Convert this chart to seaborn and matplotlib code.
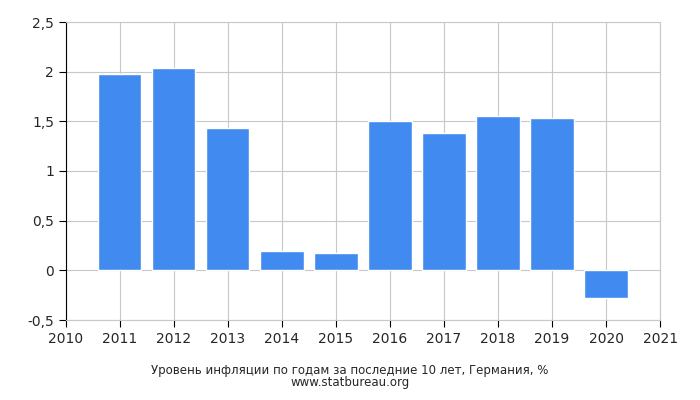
import matplotlib
matplotlib.use("Agg")
import matplotlib.pyplot as plt
import seaborn as sns

years = [2011, 2012, 2013, 2014, 2015, 2016, 2017, 2018, 2019, 2020]
values = [1.98, 2.04, 1.43, 0.19, 0.17, 1.50, 1.38, 1.55, 1.53, -0.28]
yticks = [-0.5, 0, 0.5, 1, 1.5, 2, 2.5]
ytick_labels = ["-0,5", "0", "0,5", "1", "1,5", "2", "2,5"]
xticks = list(range(2010, 2022))

sns.set_style("white")
plt.rcParams['font.family'] = ['DejaVu Sans']
fig = plt.figure(figsize=(7, 4), dpi=100)
ax = fig.add_axes([0.094, 0.2, 0.849, 0.745])
sns.barplot(x=years, y=values, native_scale=True, color="#418bf0", saturation=1, width=0.8, ax=ax, zorder=3)
ax.set_xlim(2010, 2021)
ax.set_ylim(-0.5, 2.5)
ax.set_xticks(xticks)
ax.set_xticklabels([str(x) for x in xticks], fontsize=10)
ax.set_yticks(yticks)
ax.set_yticklabels(ytick_labels, fontsize=10)
ax.grid(True, color="#c8c8c8", linewidth=0.8, zorder=0)
for s in ax.spines.values():
    s.set_color("#c8c8c8")
ax.spines['left'].set_color("#000000")
ax.spines['bottom'].set_color("#c8c8c8")
ax.tick_params(axis='both', length=5, direction='out', color="#000000", left=True, bottom=True)
ax.set_xlabel("")
ax.set_ylabel("")
fig.text(0.5, 0.065, "Уровень инфляции по годам за последние 10 лет, Германия, %", ha="center", fontsize=8.5)
fig.text(0.5, 0.035, "www.statbureau.org", ha="center", fontsize=8.5)
fig.savefig("out.png")
